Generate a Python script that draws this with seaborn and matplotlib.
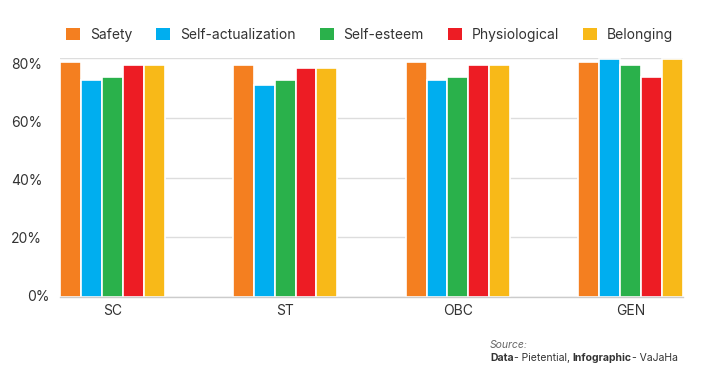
import matplotlib
matplotlib.use("Agg")
import matplotlib.pyplot as plt
import matplotlib.transforms as mtransforms
import seaborn as sns
import pandas as pd
from matplotlib.patches import Patch

categories = ["SC", "ST", "OBC", "GEN"]
needs = ["Safety", "Self-actualization", "Self-esteem", "Physiological", "Belonging"]
safety = [78.6, 77.7, 78.6, 78.6]
self_actualization = [72.6, 70.9, 72.7, 79.7]
self_esteem = [73.7, 72.6, 73.7, 77.7]
physiological = [77.7, 76.8, 77.7, 73.7]
belonging = [77.7, 76.7, 77.7, 79.7]
colors = ["#F47F20", "#00AEEF", "#2AB14B", "#ED1C24", "#F8B918"]
yticks = [0, 20, 40, 60, 80]
ytick_labels = ["0%", "20%", "40%", "60%", "80%"]

series = [safety, self_actualization, self_esteem, physiological, belonging]
rows = []
for need, vals in zip(needs, series):
    for cat, v in zip(categories, vals):
        rows.append({"Category": cat, "Need": need, "Value": v})
df = pd.DataFrame(rows)

sns.set_theme(style="white")
plt.rcParams["font.family"] = ["Inter", "DejaVu Sans"]

fig = plt.figure(figsize=(7.15, 3.76), dpi=100)
W, H = 715, 376
ax = fig.add_axes([60 / W, (H - 297) / H, (683 - 60) / W, (297 - 58.3) / H])

grp = 0.605
sns.barplot(data=df, x="Category", y="Value", hue="Need", order=categories,
            hue_order=needs, palette=colors, width=grp, dodge=True,
            edgecolor="white", linewidth=1.2, saturation=1, legend=False, ax=ax)

ax.set_xlim(-grp / 2, len(categories) - 1 + grp / 2)
ax.set_ylim(0, 80)
ax.set_yticks(yticks)
ax.set_yticklabels([])
ax.grid(axis="y", color="#dddddd", linewidth=1)
ax.set_axisbelow(True)
for s in ["top", "right", "left"]:
    ax.spines[s].set_visible(False)
ax.spines["bottom"].set_color("#cccccc")
ax.spines["bottom"].set_linewidth(1)
ax.set_xlabel("")
ax.set_ylabel("")
ax.tick_params(axis="x", length=0, pad=5, labelsize=10, labelcolor="#333333")
ax.tick_params(axis="y", length=0)

# y tick labels (slightly offset like the reference)
base = mtransforms.blended_transform_factory(ax.transAxes, ax.transData)
for v, lab in zip(yticks, ytick_labels):
    dy = -(v / 80) * 6.5
    dx = 7 if v == 0 else 0
    tr = base + mtransforms.ScaledTranslation((-18 + dx) / 100, dy / 100, fig.dpi_scale_trans)
    ax.text(0, v, lab, transform=tr, ha="right", va="center", fontsize=10,
            color="#333333")

handles = [Patch(facecolor=c, edgecolor="none") for c in colors]
fig.legend(handles, needs, loc="center", bbox_to_anchor=(369.5 / W, (H - 35) / H),
           ncol=5, frameon=False, fontsize=10, handlelength=1.0, handleheight=1.0,
           columnspacing=1.75, handletextpad=0.7, labelcolor="#333333")

fig.text(490 / W, (H - 348) / H, "Source:", fontsize=7.5, style="italic",
         color="#666666", va="baseline")
t1 = fig.text(490 / W, (H - 361) / H, "Data", fontsize=7.5, weight="bold",
              color="#333333", va="baseline")
t2 = ax.annotate("- Pietential, ", xy=(1, 0), xycoords=t1, fontsize=7.5,
                 color="#333333", va="bottom", ha="left")
t3 = ax.annotate("Infographic", xy=(1, 0), xycoords=t2, fontsize=7.5,
                 weight="bold", color="#333333", va="bottom", ha="left")
ax.annotate("- VaJaHa", xy=(1, 0), xycoords=t3, fontsize=7.5,
            color="#333333", va="bottom", ha="left")

fig.savefig("out.png", dpi=100)
